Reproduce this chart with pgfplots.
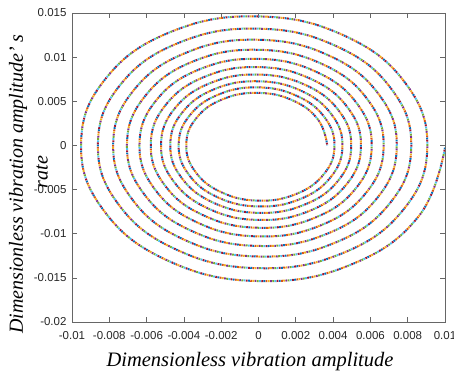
\documentclass[border=0pt]{standalone}
\usepackage{pgfplots}
\pgfplotsset{compat=1.18}
\usepackage{pgfplotstable}
\usepackage{fontspec}
\setmainfont{Liberation Sans}
\newfontfamily\timesfont{Liberation Serif}
\definecolor{c1}{rgb}{0,0.447,0.741}
\definecolor{c2}{rgb}{0.850,0.325,0.098}
\definecolor{c3}{rgb}{0.929,0.694,0.125}
\definecolor{c4}{rgb}{0.494,0.184,0.556}
\definecolor{c5}{rgb}{0.466,0.674,0.188}
\definecolor{c6}{rgb}{0.301,0.745,0.933}
\definecolor{c7}{rgb}{0.635,0.078,0.184}
\pgfplotstableread{
x y
0.010000 -0.000250
0.008588 -0.008025
0.004917 -0.013538
0.000000 -0.015362
-0.004836 -0.013071
-0.008307 -0.007345
-0.009513 0.000238
-0.008170 0.007634
-0.004678 0.012879
0.000000 0.014613
0.004601 0.012434
0.007902 0.006988
0.009050 -0.000226
0.007772 -0.007263
0.004450 -0.012252
0.000000 -0.013903
-0.004377 -0.011829
-0.007518 -0.006647
-0.008609 0.000215
-0.007394 0.006909
-0.004234 0.011655
0.000000 0.013225
0.004164 0.011253
0.007151 0.006324
0.008190 -0.000205
0.007034 -0.006573
0.004027 -0.011088
0.000000 -0.012582
-0.003961 -0.010706
-0.006804 -0.006016
-0.007791 0.000195
-0.006691 0.006252
-0.003831 0.010548
0.000000 0.011968
0.003768 0.010184
0.006472 0.005723
0.007412 -0.000186
0.006366 -0.005949
0.003644 -0.010035
0.000000 -0.011387
-0.003585 -0.009689
-0.006158 -0.005444
-0.007051 0.000176
-0.006055 0.005658
-0.003467 0.009546
0.000000 0.010831
0.003410 0.009217
0.005857 0.005179
0.006708 -0.000168
0.005761 -0.005384
0.003298 -0.009082
0.000000 -0.010305
-0.003244 -0.008769
-0.005573 -0.004927
-0.006381 0.000159
-0.005480 0.005120
-0.003138 0.008639
0.000000 0.009802
0.003086 0.008341
0.005301 0.004687
0.006071 -0.000152
0.005214 -0.004873
0.002985 -0.008219
0.000000 -0.009326
-0.002936 -0.007936
-0.005044 -0.004459
-0.005775 0.000144
-0.004959 0.004634
-0.002840 0.007818
0.000000 0.008871
0.002793 0.007549
0.004797 0.004242
0.005494 -0.000138
0.004719 -0.004410
0.002701 -0.007438
0.000000 -0.008440
-0.002657 -0.007182
-0.004565 -0.004035
-0.005226 0.000130
-0.004488 0.004194
-0.002570 0.007075
0.000000 0.008028
0.002528 0.006832
0.004341 0.003839
0.004972 -0.000125
0.004271 -0.003991
0.002444 -0.006731
0.000000 -0.007638
-0.002405 -0.006500
-0.004131 -0.003652
-0.004730 0.000118
-0.004062 0.003796
-0.002326 0.006403
0.000000 0.007265
0.002288 0.006183
0.003929 0.003474
0.004500 -0.000113
0.003865 -0.003612
0.002212 -0.006092
0.000000 -0.006912
-0.002177 -0.005883
-0.003739 -0.003305
-0.004281 0.000107
-0.003676 0.003435
-0.002105 0.005795
0.000000 0.006575
0.002071 0.005596
0.003556 0.003144
0.004073 -0.000102
0.003498 -0.003269
0.002002 -0.005513
0.000000 -0.006255
-0.001970 -0.005324
-0.003384 -0.002991
-0.003874 0.000097
-0.003327 0.003109
-0.001905 0.005244
0.000000 0.005950
0.001874 0.005064
0.003218 0.002845
0.003686 0.000000
}\spiral
\tikzset{spir/.style={line width=2pt, line cap=butt, dash pattern=on 1.8pt off 13.6pt, dash phase=#1}}
\begin{document}
\begin{tikzpicture}
\begin{axis}[
  at={(72pt,52pt)}, anchor=south west,
  scale only axis, width=373pt, height=309pt,
  xmin=-0.01, xmax=0.01, ymin=-0.02, ymax=0.015,
  scaled ticks=false,
  xtick={-0.01,-0.008,-0.006,-0.004,-0.002,0,0.002,0.004,0.006,0.008,0.01},
  xticklabels={-0.01,-0.008,-0.006,-0.004,-0.002,0,0.002,0.004,0.006,0.008,0.01},
  ytick={-0.02,-0.015,-0.01,-0.005,0,0.005,0.01,0.015},
  yticklabels={-0.02,-0.015,-0.01,-0.005,0,0.005,0.01,0.015},
  tick align=inside, major tick length=5pt,
  axis line style={black!60, line width=0.7pt},
  tick style={black!60, line width=0.7pt},
  ticklabel style={font=\fontsize{11.5}{13}\selectfont, text=black!85},
  xticklabel style={yshift=-6pt},
  yticklabel style={xshift=-2pt},
]
\addplot[c1, no markers, smooth, tension=0.72, spir=0pt] table {\spiral};
\addplot[c2, no markers, smooth, tension=0.72, spir=2.2pt] table {\spiral};
\addplot[c3, no markers, smooth, tension=0.72, spir=4.4pt] table {\spiral};
\addplot[c4, no markers, smooth, tension=0.72, spir=6.6pt] table {\spiral};
\addplot[c5, no markers, smooth, tension=0.72, spir=8.8pt] table {\spiral};
\addplot[c6, no markers, smooth, tension=0.72, spir=11pt] table {\spiral};
\addplot[c7, no markers, smooth, tension=0.72, spir=13.2pt] table {\spiral};
\end{axis}
\node[font=\timesfont\itshape\fontsize{20.5}{22}\selectfont] at (250pt,12pt) {Dimensionless vibration amplitude};
\node[rotate=90, font=\timesfont\itshape\fontsize{20}{22}\selectfont] at (18pt,190pt) {Dimensionless vibration amplitude’ s};
\node[rotate=90, font=\timesfont\itshape\fontsize{20}{22}\selectfont] at (42pt,202pt) {rate};
\pgfresetboundingbox
\useasboundingbox (0,0) rectangle (454pt,374pt);
\end{tikzpicture}
\end{document}
